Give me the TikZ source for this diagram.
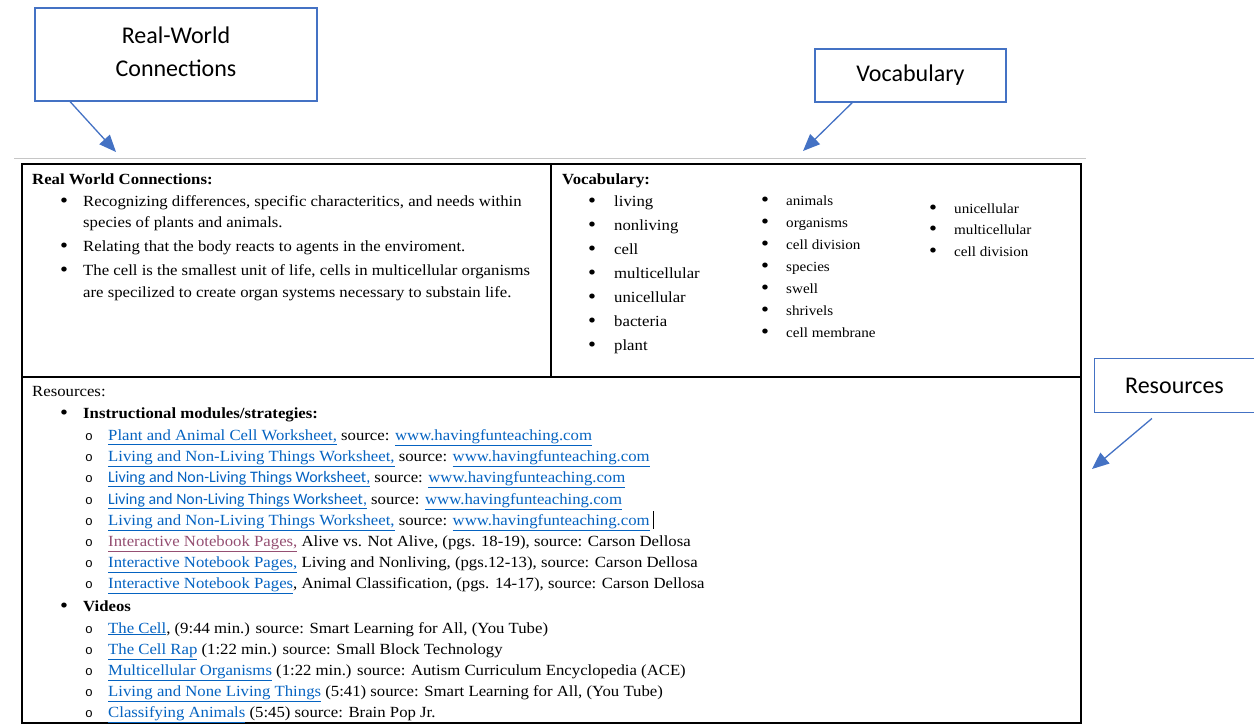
\documentclass[tikz,border=0pt]{standalone}
\usepackage{fontspec}
\setmainfont[FakeStretch=1.08]{Liberation Serif}
\setmonofont{Liberation Mono}
\newfontfamily\calibri{Carlito}
\usetikzlibrary{positioning}
\usetikzlibrary{arrows.meta}
\definecolor{calloutblue}{HTML}{4472C4}
\definecolor{linkblue}{HTML}{0563C1}
\definecolor{visitedlink}{HTML}{954F72}
\newcommand{\weblink}[2][linkblue]{\textcolor{#1}{\underline{#2}}}
\newcommand{\subbullet}{\texttt{o}}

\begin{document}
\begin{tikzpicture}[x=1pt, y=-1pt,
    callout/.style={draw=calloutblue, line width=1.3pt, align=center, inner sep=0pt,
      font=\calibri\fontsize{24}{33}\selectfont},
    pointer/.style={draw=calloutblue, line width=1.3pt,
      -{Triangle[length=17pt,width=14pt,fill=calloutblue]}},
    txt/.style={anchor=base west, inner sep=0pt, font=\fontsize{15.5}{18}\selectfont},
    smalltxt/.style={txt, font=\fontsize{14}{16}\selectfont},
    heading/.style={txt, font=\bfseries\fontsize{15.5}{18}\selectfont},
    dot/.style={anchor=base west, inner sep=0pt, font=\fontsize{21}{18}\selectfont},
    subdot/.style={anchor=base west, inner sep=0pt, font=\fontsize{13}{16}\selectfont},
    frame/.style={line width=2.5pt}]

    \useasboundingbox (0,0) rectangle (1254,725);

    % Callout boxes
    \node[callout, minimum width=282pt, minimum height=93pt, text depth=6pt] (rwcbox) at (176,54.5)
      {Real-World\\[0pt]Connections};
    \node[callout, minimum width=191pt, minimum height=53pt] (vocbox) at (910.5,75.5)
      {Vocabulary};
    \node[callout, draw=none, minimum width=159pt, minimum height=53pt] (resbox) at (1174.5,385.5)
      {Resources};
    \draw[calloutblue, line width=1.3pt] (resbox.north east) -| (resbox.south west) -- (resbox.south east);

    % Pointers
    \coordinate (rwctip) at (116,152);
    \coordinate (voctip) at (803,151);
    \coordinate (restip) at (1092,469);
    \draw[pointer] (rwcbox.204) -- (rwctip);
    \draw[pointer] (vocbox.205) -- (voctip);
    \draw[pointer, shorten <=9pt] (resbox.240) -- (restip);

    % Page rule
    \draw[gray!45, line width=0.8pt] (14,158) -- (1086,158);

    % Table frame
    \draw[frame] (22,164) rectangle (1081,723);
    \draw[frame] (22,377) -- (1081,377);
    \draw[frame] (551,164) -- (551,377);

    % Real World Connections cell
    \node[heading] (rwchead) at (32,184) {Real World Connections:};
    \foreach \y [count=\i] in {206,251,275}
      \node[dot] (rwcdot\i) at (60,\y+1) {\textbullet};
    \node[txt] (rwc1) at (83,206) {Recognizing differences, specific characteritics, and needs within};
    \node[txt] (rwc1b) at (83,227) {species of plants and animals.};
    \node[txt] (rwc2) at (83,251) {Relating that the body reacts to agents in the enviroment.};
    \node[txt] (rwc3) at (83,275) {The cell is the smallest unit of life, cells in multicellular organisms};
    \node[txt] (rwc3b) at (83,297) {are specilized to create organ systems necessary to substain life.};

    % Vocabulary cell
    \node[heading] (vochead) at (562,184) {Vocabulary:};
    \foreach \word [count=\i] in {living, nonliving, cell, multicellular, unicellular, bacteria, plant} {
      \node[dot] (vocAdot\i) at (588,207+24*\i-24) {\textbullet};
      \node[txt] (vocA\i) at (614,206+24*\i-24) {\word};
    }
    \foreach \word [count=\i] in {animals, organisms, cell division, species, swell, shrivels, cell membrane} {
      \node[dot] (vocBdot\i) at (761,206+22*\i-22) {\textbullet};
      \node[smalltxt] (vocB\i) at (786,205+22*\i-22) {\word};
    }
    \foreach \word [count=\i] in {unicellular, multicellular, cell division} {
      \node[dot] (vocCdot\i) at (929,214+21.5*\i-21.5) {\textbullet};
      \node[smalltxt] (vocC\i) at (954,213+21.5*\i-21.5) {\word};
    }

    % Resources cell
    \node[txt] (reshead) at (32,396) {Resources:};
    \node[dot] (resdot1) at (60,419) {\textbullet};
    \node[heading] (modhead) at (83,418) {Instructional modules/strategies:};
    \foreach \y [count=\i] in {440,461,482,504,525,546,567,588,633,654,675,696,717}
      \node[subdot] (ressub\i) at (85,\y) {\subbullet};
    \node[txt] (mod1) at (108,440) {\weblink{Plant and Animal Cell Worksheet,} source: \weblink{www.havingfunteaching.com}};
    \node[txt] (mod2) at (108,461) {\weblink{Living and Non-Living Things Worksheet,} source: \weblink{www.havingfunteaching.com}};
    \node[txt] (mod3) at (108,482) {\weblink{\calibri\fontsize{16}{18}\selectfont Living and Non-Living Things Worksheet,} source: \weblink{www.havingfunteaching.com}};
    \node[txt] (mod4) at (108,504) {\weblink{\calibri\fontsize{15.8}{18}\selectfont Living and Non-Living Things Worksheet,} source: \weblink{www.havingfunteaching.com}};
    \node[txt] (mod5) at (108,525) {\weblink{Living and Non-Living Things Worksheet,} source: \weblink{www.havingfunteaching.com}};
    \node[txt] (mod6) at (108,546) {\weblink[visitedlink]{Interactive Notebook Pages,} Alive vs. Not Alive, (pgs. 18-19), source: Carson Dellosa};
    \node[txt] (mod7) at (108,567) {\weblink{Interactive Notebook Pages,} Living and Nonliving, (pgs.12-13), source: Carson Dellosa};
    \node[txt] (mod8) at (108,588) {\weblink{Interactive Notebook Pages}, Animal Classification, (pgs. 14-17), source: Carson Dellosa};
    % text cursor after the fifth line
    \draw[line width=0.7pt] (mod5.base east) ++(3,-14) -- ++(0,18);

    \node[dot] (resdot2) at (60,612) {\textbullet};
    \node[heading] (vidhead) at (83,611) {Videos};
    \node[txt] (vid1) at (108,633) {\weblink{The Cell}, (9:44 min.) source: Smart Learning for All, (You Tube)};
    \node[txt] (vid2) at (108,654) {\weblink{The Cell Rap} (1:22 min.) source: Small Block Technology};
    \node[txt] (vid3) at (108,675) {\weblink{Multicellular Organisms} (1:22 min.) source: Autism Curriculum Encyclopedia (ACE)};
    \node[txt] (vid4) at (108,696) {\weblink{Living and None Living Things} (5:41) source: Smart Learning for All, (You Tube)};
    \node[txt] (vid5) at (108,717) {\weblink{Classifying Animals} (5:45) source: Brain Pop Jr.};

\end{tikzpicture}
\end{document}
